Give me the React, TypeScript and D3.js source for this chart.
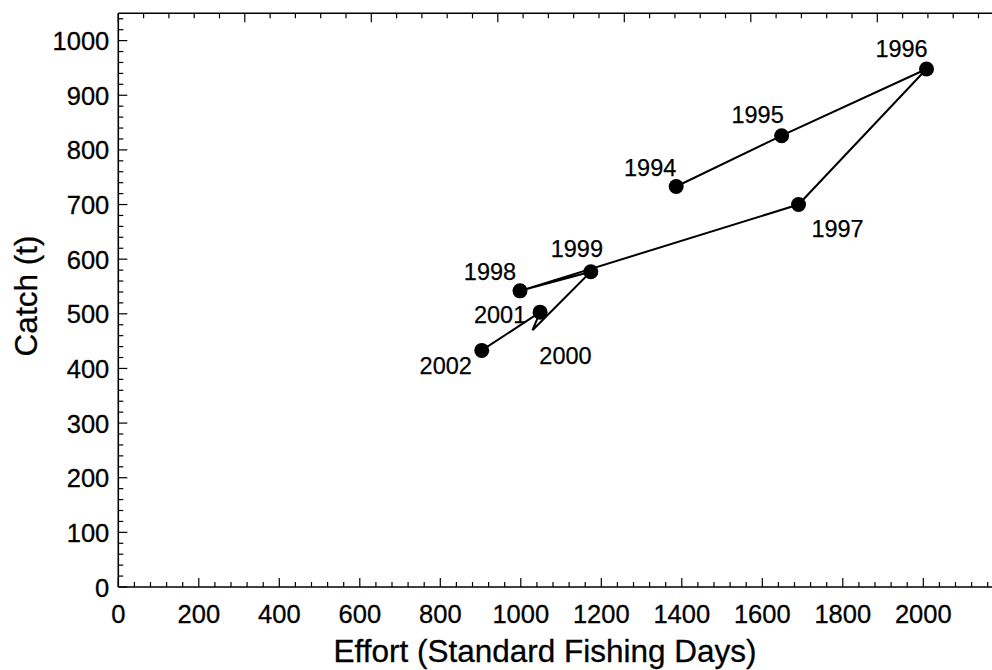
import { useRef, useEffect } from 'react';
import * as d3 from 'd3';

const years = [1994, 1995, 1996, 1997, 1998, 1999, 2000, 2001, 2002];
const effort = [1386, 1648, 2008, 1690, 998, 1174, 1029, 1048, 903];
const catchT = [733, 826, 948, 700, 542, 577, 470, 503, 433];
const noMarker = [2000];

const xTicks = [0, 200, 400, 600, 800, 1000, 1200, 1400, 1600, 1800, 2000];
const yTicks = [0, 100, 200, 300, 400, 500, 600, 700, 800, 900, 1000];

const FONT = 'Liberation Sans, Arial, Helvetica, sans-serif';

// label placement relative to each point (px)
const labelPos: Record<number, [number, number]> = {
  1994: [-26, -19],
  1995: [-24, -21],
  1996: [-25, -20],
  1997: [39, 24],
  1998: [-30, -19],
  1999: [-14, -23],
  2000: [33, 26],
  2001: [-40, 3],
  2002: [-36, 16],
};

export default function App() {
  const svgRef = useRef<SVGSVGElement>(null);

  useEffect(() => {
    if (!svgRef.current) return;
    const svg = d3.select(svgRef.current);
    svg.selectAll('*').remove();

    const left = 118.3, top = 13.3, bottom = 587;
    const x = d3.scaleLinear().domain([0, 2200]).range([left, left + 2200 * 0.4025]);
    const y = d3.scaleLinear().domain([0, 1050]).range([bottom, top]);
    const right = x(2200);
    // unlabelled top axis has its own spacing
    const xTop = d3.scaleLinear().domain([0, 7]).range([left, right]);

    const g = svg.append('g');

    // frame
    g.append('line').attr('x1', left).attr('x2', right).attr('y1', bottom).attr('y2', bottom)
      .attr('stroke', '#000').attr('stroke-width', 1.6);
    g.append('line').attr('x1', left).attr('x2', right).attr('y1', top).attr('y2', top)
      .attr('stroke', '#000').attr('stroke-width', 1.6);
    g.append('line').attr('x1', left).attr('x2', left).attr('y1', top).attr('y2', bottom)
      .attr('stroke', '#000').attr('stroke-width', 1.6);

    // bottom ticks
    d3.range(0, 2201, 40).forEach(v => {
      const major = v % 200 === 0;
      g.append('line').attr('x1', x(v)).attr('x2', x(v)).attr('y1', bottom).attr('y2', bottom - (major ? 9 : 5))
        .attr('stroke', '#000').attr('stroke-width', 1.2);
    });
    // top ticks
    d3.range(0, 7.01, 0.2).forEach(v => {
      const major = Math.abs(v - Math.round(v)) < 1e-6;
      g.append('line').attr('x1', xTop(v)).attr('x2', xTop(v)).attr('y1', top).attr('y2', top + (major ? 9 : 5))
        .attr('stroke', '#000').attr('stroke-width', 1.2);
    });
    // left ticks
    d3.range(0, 1051, 20).forEach(v => {
      const major = v % 100 === 0;
      g.append('line').attr('x1', left).attr('x2', left + (major ? 9 : 5)).attr('y1', y(v)).attr('y2', y(v))
        .attr('stroke', '#000').attr('stroke-width', 1.2);
    });

    // tick labels
    g.selectAll('.xl').data(xTicks).join('text')
      .attr('x', d => x(d)).attr('y', 623)
      .attr('text-anchor', 'middle').attr('font-family', FONT).attr('font-size', 25.5)
      .attr('fill', '#000').attr('stroke', '#000').attr('stroke-width', 0.3)
      .text(d => String(d));
    g.selectAll('.yl').data(yTicks).join('text')
      .attr('x', left - 9).attr('y', d => y(d) + 9.5)
      .attr('text-anchor', 'end').attr('font-family', FONT).attr('font-size', 25.5)
      .attr('fill', '#000').attr('stroke', '#000').attr('stroke-width', 0.3)
      .text(d => String(d));

    // axis titles
    g.append('text').attr('x', 545).attr('y', 661.5).attr('text-anchor', 'middle')
      .attr('font-family', FONT).attr('font-size', 31.5).attr('fill', '#000')
      .attr('stroke', '#000').attr('stroke-width', 0.3)
      .text('Effort (Standard Fishing Days)');
    g.append('text').attr('transform', 'translate(36.5,296) rotate(-90)').attr('text-anchor', 'middle')
      .attr('font-family', FONT).attr('font-size', 31.5).attr('fill', '#000')
      .attr('stroke', '#000').attr('stroke-width', 0.3)
      .text('Catch (t)');

    const pts = years.map((yr, i) => ({ yr, e: effort[i], c: catchT[i] }));

    const line = d3.line<typeof pts[number]>().x(d => x(d.e)).y(d => y(d.c));
    g.append('path').datum(pts).attr('d', line).attr('fill', 'none')
      .attr('stroke', '#000').attr('stroke-width', 2).attr('stroke-linejoin', 'miter');

    g.selectAll('.pt').data(pts.filter(d => !noMarker.includes(d.yr))).join('circle')
      .attr('cx', d => x(d.e)).attr('cy', d => y(d.c)).attr('r', 7.5).attr('fill', '#000');

    g.selectAll('.lab').data(pts).join('text')
      .attr('x', d => x(d.e) + labelPos[d.yr][0])
      .attr('y', d => y(d.c) + labelPos[d.yr][1] + 8)
      .attr('text-anchor', 'middle').attr('font-family', FONT).attr('font-size', 23.5)
      .attr('fill', '#000').attr('stroke', '#000').attr('stroke-width', 0.25)
      .text(d => String(d.yr));
  }, []);

  return (
    <svg ref={svgRef} width={992} height={670}
      style={{ position: 'absolute', left: 0, top: 0, background: '#fff' }} />
  );
}
